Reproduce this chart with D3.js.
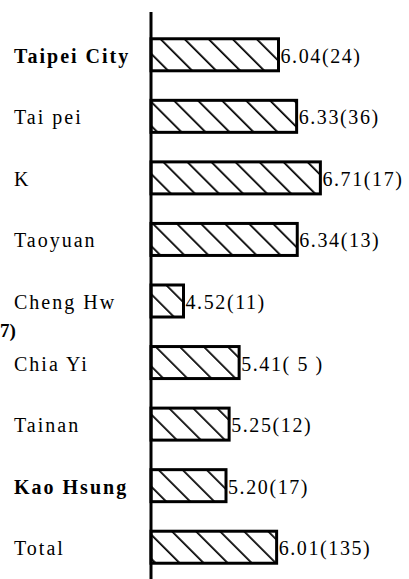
<!DOCTYPE html>
<html>
<head>
<meta charset="utf-8">
<script src="https://cdn.jsdelivr.net/npm/d3@7"></script>
<style>
  body { margin: 0; background: #fff; }
  svg { display: block; }
  text { font-family: 'Liberation Serif', 'Times New Roman', 'DejaVu Serif', serif; }
</style>
</head>
<body>
<svg id="chart"></svg>
<script>
const categories = ['Taipei City', 'Tai pei', 'K', 'Taoyuan', 'Cheng Hw', 'Chia Yi', 'Tainan', 'Kao Hsung', 'Total']
const means = [6.04, 6.33, 6.71, 6.34, 4.52, 5.41, 5.25, 5.20, 6.01]
const counts = [24, 36, 17, 13, 11, 5, 12, 17, 135]
const boldNames = ['Taipei City', 'Kao Hsung']

const width = 409
const height = 579

const svg = d3.select('#chart')
    .attr('width', width)
    .attr('height', height)

// hatch pattern, lines running top-left to bottom-right
svg.append('defs')
  .append('pattern')
    .attr('id', 'hatch')
    .attr('patternUnits', 'userSpaceOnUse')
    .attr('width', 17)
    .attr('height', 17)
    .attr('patternTransform', 'rotate(-45)')
  .append('line')
    .attr('x1', 0).attr('y1', 0)
    .attr('x2', 0).attr('y2', 17)
    .attr('stroke', '#000')
    .attr('stroke-width', 3.5)

const data = categories.map((c, i) => ({ name: c, value: means[i], n: counts[i] }))

const x = d3.scaleLinear()
    .domain([4, 7])
    .range([151, 338.5])

const y = d3.scaleBand()
    .domain(categories)
    .range([24, 578])
    .paddingInner(0.48)
    .paddingOuter(0.24)

// bars
svg.selectAll('rect.bar')
    .data(data)
    .enter()
    .append('rect')
      .attr('class', 'bar')
      .attr('x', x(4))
      .attr('y', d => y(d.name))
      .attr('width', d => x(d.value) - x(4))
      .attr('height', y.bandwidth())
      .attr('fill', 'url(#hatch)')
      .attr('stroke', '#000')
      .attr('stroke-width', 3)

// vertical axis line
svg.append('g')
    .attr('transform', 'translate(' + x(4) + ',0)')
    .call(d3.axisLeft(y).tickSize(0).tickFormat(''))
    .call(g => g.select('.domain')
        .attr('d', 'M0,12V579')
        .attr('stroke', '#000')
        .attr('stroke-width', 3))

// category labels
svg.selectAll('text.cat')
    .data(data)
    .enter()
    .append('text')
      .attr('class', 'cat')
      .attr('x', 14)
      .attr('y', d => y(d.name) + y.bandwidth() / 2 + 8)
      .attr('font-size', 20)
      .attr('letter-spacing', 2)
      .attr('font-weight', d => boldNames.includes(d.name) ? 'bold' : 'normal')
      .text(d => d.name)

// value labels
svg.selectAll('text.val')
    .data(data)
    .enter()
    .append('text')
      .attr('class', 'val')
      .attr('x', d => x(d.value) + 2)
      .attr('y', d => y(d.name) + y.bandwidth() / 2 + 8)
      .attr('font-size', 20)
      .attr('letter-spacing', 1.6)
      .text(d => d3.format('.2f')(d.value) + '(' + (d.n < 10 ? ' ' + d.n + ' ' : d.n) + ')')

// stray fragment at the left edge of the scan
svg.append('text')
    .attr('x', 0)
    .attr('y', 337)
    .attr('font-size', 19)
    .attr('font-weight', 'bold')
    .text('7)')
</script>
</body>
</html>
